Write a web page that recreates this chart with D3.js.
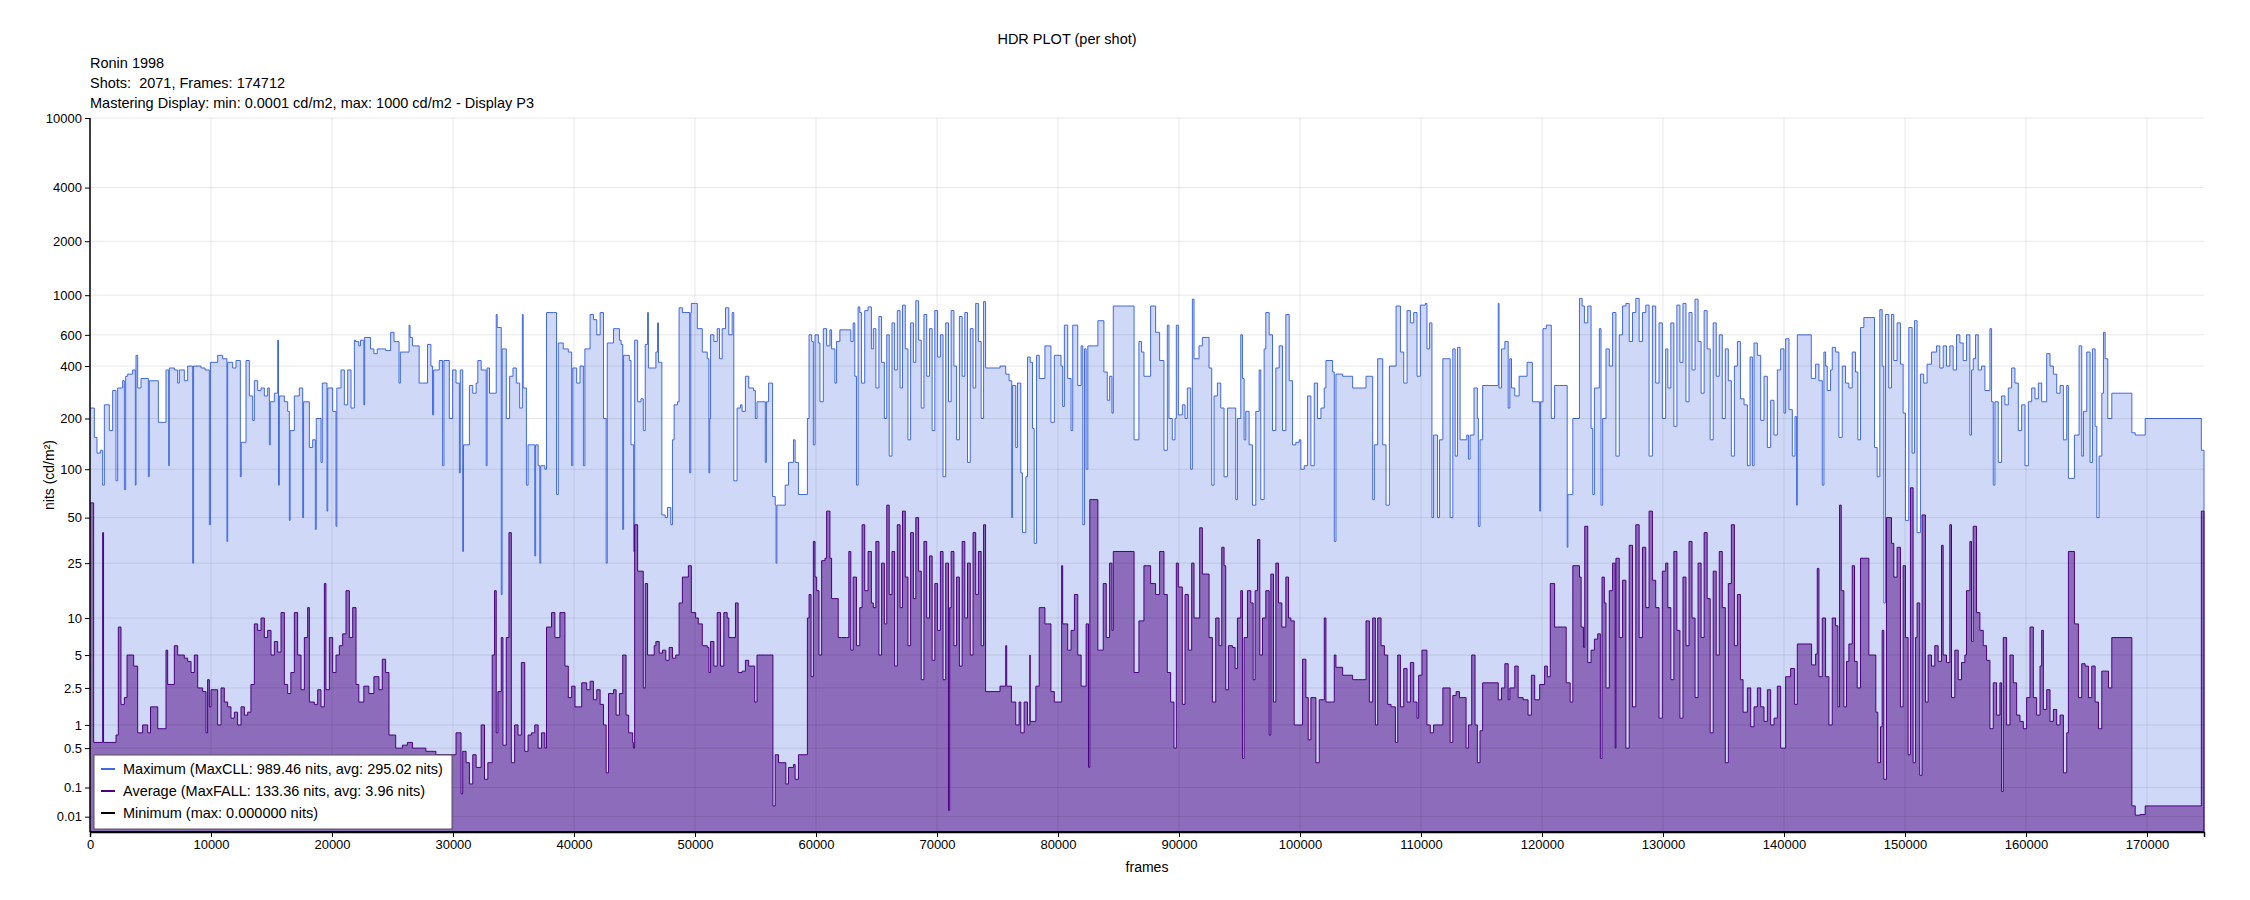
<!DOCTYPE html>
<html><head><meta charset="utf-8">
<script src="https://cdn.jsdelivr.net/npm/d3@7"></script>
<style>
body{margin:0;background:#fff;}
svg text{font-family:Arial,"Liberation Sans",Helvetica,sans-serif;fill:#000;white-space:pre;}
</style>
</head><body>
<svg id="chart" width="2250" height="900"></svg>
<script>
// ---------- texts ----------
const chartTitle = "HDR PLOT (per shot)";
const headerLines = ["Ronin 1998", "Shots:  2071, Frames: 174712", "Mastering Display: min: 0.0001 cd/m2, max: 1000 cd/m2 - Display P3"];
const yAxisTitle = "nits (cd/m²)";
const xAxisTitle = "frames";
const legendLabels = ["Maximum (MaxCLL: 989.46 nits, avg: 295.02 nits)", "Average (MaxFALL: 133.36 nits, avg: 3.96 nits)", "Minimum (max: 0.000000 nits)"];

// ---------- ticks ----------
const yTickValues = [0.01, 0.1, 0.5, 1, 2.5, 5, 10, 25, 50, 100, 200, 400, 600, 1000, 2000, 4000, 10000];
const yTickLabels = ["0.01", "0.1", "0.5", "1", "2.5", "5", "10", "25", "50", "100", "200", "400", "600", "1000", "2000", "4000", "10000"];
const xTickValues = [0, 10000, 20000, 30000, 40000, 50000, 60000, 70000, 80000, 90000, 100000, 110000, 120000, 130000, 140000, 150000, 160000, 170000];
const totalFrames = 174712;

// ---------- data: [shot start frame, nits] ----------
const maxSeries = [
[0,230],[358,155],[578,125],[854,130],[1047,80],[1185,240],[1598,170],[1873,290],[2150,85],[2287,300],[2424,300],[2700,330],[2838,75],[2950,350],[3113,360],[3526,380],[3747,80],[3802,460],[3940,300],[4215,340],[4628,340],[4821,90],[4900,330],[5648,190],[6281,380],[6502,105],[6557,390],[6970,380],[7246,320],[7383,380],[7797,330],[8072,400],[8485,25],[8560,400],[9174,390],[9505,380],[9863,45],[9950,420],[10552,460],[10965,440],[11316,35],[11378,420],[11791,390],[12067,430],[12425,90],[12500,145],[12893,430],[13169,270],[13444,195],[13582,330],[13858,290],[14133,300],[14409,270],[14684,300],[14822,140],[14900,250],[15235,280],[15511,560],[15580,80],[15648,270],[16062,250],[16337,220],[16475,48],[16540,170],[16888,270],[17301,300],[17577,50],[17650,250],[18128,135],[18403,150],[18624,42],[18700,200],[19092,110],[19200,320],[19588,55],[19650,300],[20056,220],[20332,44],[20400,300],[20745,380],[21021,240],[21296,380],[21572,230],[21847,560],
[21939,550],[22216,520],[22355,560],[22632,240],[22700,580],[23186,500],[23463,470],[23740,500],[24155,500],[24432,490],[24848,620],[25125,550],[25540,320],[25650,480],[26371,680],[26450,580],[26648,520],[27202,320],[27479,320],[27895,530],[28172,400],[28310,210],[28400,380],[28864,430],[29141,105],[29250,430],[29695,200],[29972,380],[30249,320],[30526,95],[30600,380],[30803,30],[30870,140],[31357,310],[31634,280],[31911,320],[32050,430],[32327,380],[32742,105],[32820,390],[33019,280],[33573,780],[33650,660],[33989,15],[34060,500],[34127,500],[34404,200],[34681,350],[34958,390],[35235,320],[35512,230],[35734,780],[35800,300],[36066,80],[36205,140],[36482,140],[36759,28],[36830,140],[37036,105],[37174,25],[37250,105],[37590,100],[37728,800],[38282,800],[38559,70],[38700,540],[39113,500],[39529,480],[39806,105],[39900,390],[40221,320],[40498,400],[40775,105],[40900,500],[41329,780],[41606,730],[41883,600],[42160,800],[42437,200],[42659,25],[42750,540],[43268,650],
[43479,650],[43753,560],[43890,530],[44027,42],[44100,460],[44575,430],[44712,140],[44931,30],[45013,560],[45260,250],[45534,260],[45726,170],[45890,530],[46082,800],[46150,390],[46630,390],[46767,480],[46904,700],[46980,420],[47260,52],[47534,50],[47726,58],[48000,45],[48137,150],[48274,240],[48548,250],[48685,850],[48959,800],[49562,95],[49650,800],[49699,900],[50055,900],[50192,650],[50603,480],[51014,440],[51151,95],[51220,200],[51288,600],[51562,550],[51836,650],[52028,440],[52247,650],[52521,850],[52795,600],[53069,800],[53206,85],[53480,230],[53754,240],[53891,220],[54165,350],[54439,300],[54850,290],[54987,200],[55124,250],[55809,110],[55900,250],[56083,320],[56412,68],[56631,60],[56700,25],[56768,60],[57453,80],[57727,110],[58138,150],[58275,110],[58549,70],[59289,200],[59426,600],[59645,550],[59782,140],[59919,600],[60193,540],[60330,250],[60604,650],[60878,520],[61152,640],[61289,500],[61563,320],[61700,550],[61974,640],[62878,550],[63070,700],[63207,350],[63344,80],[63481,860],[63618,800],[63755,320],[64029,820],[64303,860],[64577,500],
[64737,650],[64950,300],[65200,760],[65420,420],[65650,200],[65850,600],[66050,120],[66280,700],[66500,380],[66720,820],[66950,300],[67150,880],[67380,500],[67600,150],[67820,700],[68050,420],[68250,930],[68480,560],[68700,230],[68920,780],[69150,350],[69380,650],[69600,170],[69820,820],[70050,450],[70280,600],[70500,90],[70720,700],[70950,250],[71170,820],[71400,400],[71620,150],[71850,760],[72080,350],[72300,800],[72520,110],[72750,650],[72980,300],[73200,900],[73420,550],[73650,200],[73850,920],
[74017,390],[75208,400],[75679,360],[75956,330],[76177,50],[76233,310],[76510,135],[76648,320],[76925,95],[77064,40],[77341,90],[77479,450],[77701,420],[77895,175],[78033,34],[78227,460],[78449,340],[78920,520],[79418,190],[79695,460],[80249,400],[80387,235],[80526,680],[80803,340],[81080,170],[81219,680],[81634,310],[81911,520],[82050,45],[82188,500],[82327,100],[82465,520],[83297,720],[83795,370],[84072,255],[84266,350],[84460,215],[84570,870],[86288,150],
[86688,550],[86909,480],[87102,350],[87654,870],[88068,620],[88399,430],[88758,130],[89034,680],[89172,200],[89448,150],[89669,200],[89779,680],[89945,210],[90276,240],[90497,200],[90690,300],[90966,100],[91104,950],[91242,440],[91656,520],[91932,580],[92484,390],[92705,80],[92898,270],[93174,320],[93450,230],[93726,90],[94002,230],[94416,230],[94692,65],[94830,200],[95106,600],[95244,340],[95382,150],[95520,220],[95796,140],[96072,60],[96348,220],[96624,380],[96762,65],[97038,500],[97176,800],[97452,600],[97728,170],[98004,390],[98280,520],[98556,170],[98832,780],[99108,330],[99384,140],[99660,145],[99936,150],[100074,100],[100350,105],[100626,270],[100902,105],[101178,320],[101454,200],[101730,230],[102006,300],[102144,430],[102696,370],[102834,35],[102972,360],[103524,350],[104352,300],[105456,350],[105732,350],[106008,65],[106146,140],[106422,440],[106836,140],[107112,60],[107388,400],[107940,870],
[108301,480],[108575,320],[108849,820],[109123,700],[109397,800],[109671,350],[109945,880],[110356,900],[110493,500],[110712,700],[110904,50],[111041,160],[111370,50],[111534,150],[111808,440],[112411,50],[112630,500],[112822,120],[113014,510],[113233,150],[113781,160],[113918,115],[114055,160],[114384,300],[114658,200],[114740,44],[114877,150],[115096,310],[116384,900],[116450,300],[116658,500],[116932,550],[117206,230],[117343,440],[117480,300],[117754,270],[118110,350],[118768,420],[119206,250],[119809,55],[119880,250],[120083,650],[120357,680],[120768,200],[121042,310],[122001,310],[122083,32],[122138,70],[122275,70],[122549,200],[123097,960],[123316,870],[123508,700],[123782,870],[124056,175],[124193,70],[124330,300],[124741,650],[124878,60],[125015,200],[125289,500],[125563,400],[125837,800],[126111,120],[126385,600],[126659,870],[126933,900],[127207,550],[127481,800],[127755,960],[128029,550],[128303,800],[128577,880],[128851,120],[129125,870],[129399,320],[129673,700],[129947,200],[130221,500],
[130400,300],[130650,700],[130900,180],[131150,880],[131400,420],[131650,900],[131900,250],[132150,800],[132400,380],[132650,950],[132900,550],[133150,280],[133400,820],[133650,500],[133900,150],[134150,700],[134400,350],[134650,600],[134900,200],[135150,500],[135400,330],[135650,120],[135900,400],[136150,550],[136400,260],
[136700,240],[136975,105],[137195,450],[137388,105],[137525,540],[137800,460],[138075,195],[138350,350],[138625,135],[138900,255],[139175,160],[139450,380],[139725,500],[140000,215],[140138,570],[140413,225],[140688,120],[140908,205],[141045,60],[141100,600],[142255,340],[142613,410],[142888,330],[143163,80],[143300,480],[143438,400],[143575,290],[143850,380],[143988,510],[144263,480],[144538,155],[144813,400],[145088,320],[145363,300],[145638,480],[145913,370],[146105,150],[146325,660],[146600,750],[147480,135],[147700,90],[147920,830],[148113,400],[148250,13],[148388,780],[148663,300],[148883,780],[149075,430],[149350,700],[149625,410],[149845,215],[150038,48],[150313,660],[150588,125],[150780,720],[151000,40],[151275,360],[151550,320],[151825,410],
[152189,480],[152603,520],[152879,390],[153155,520],[153431,400],[153707,520],[153983,380],[154259,600],[154535,540],[154811,430],[155087,600],[155363,160],[155501,380],[155639,440],[155832,600],[156053,380],[156329,400],[156605,290],[157019,650],[157157,250],[157295,80],[157433,250],[157709,110],[157985,270],[158261,240],[158537,300],[158813,390],[159089,320],[159365,170],[159641,240],[159917,105],[160193,250],[160469,300],[160745,260],[161021,320],[161297,250],[161711,470],[161987,400],[162263,360],[162539,280],[162815,310],[163091,150],[163367,310],[163505,88],[164002,160],[164389,520],[164609,120],[164747,220],[165023,480],[165299,110],[165492,500],[165713,180],[165851,50],[166044,120],[166265,280],[166403,620],[166541,440],[166762,200],[167093,280],[168749,165],[169025,160],[169853,200],[174490,130]
];

const avgSeries = [
[0,62],[300,0.6],[1047,40],[1120,0.6],[2150,0.75],[2340,8.5],[2560,1.7],[2838,2],[3060,5],[3610,4],[3940,0.8],[4350,1],[4770,0.8],[5000,1.6],[5600,0.9],[6281,5.5],[6420,2.7],[6970,6],[7246,5],[7797,4.7],[8072,4.4],[8350,3.5],[8623,5],[8900,2.5],[9312,2.3],[9590,0.8],[9720,3],[9863,1.6],[10000,2.4],[10552,1],[10830,2.5],[11100,1.8],[11380,1.6],[11650,1.2],[11930,1.4],[12200,1],[12480,1.6],[12756,1.3],[13030,1.4],[13300,2.7],[13582,9],[13858,8],[14133,10],[14409,7],[14684,8],[14960,5],[15235,6.5],[15511,5.3],[15786,11],[16062,2.7],[16337,2.2],[16600,3.5],[16888,11],[17160,5],[17440,2.4],[17715,7],[17990,12],[18128,1.8],[18540,1.7],[18817,2.4],[19092,1.6],[19368,18],[19500,2.4],[19781,7],[20056,3.5],[20332,5],[20607,6],[20883,7.5],[21158,16],[21434,7],[21710,12],[21985,2.7],
[22216,1.8],[22632,2.6],[23047,2.2],[23463,3.2],[23878,2.4],[24155,4.6],[24432,3.5],[24709,0.75],[25263,0.5],[25817,0.55],[26233,0.6],[26648,0.5],[27202,0.5],[27756,0.45],[28587,0.4],[29695,0.4],[30249,0.8],[30665,0.07],[30803,0.45],[31080,0.3],[31357,0.12],[31634,0.4],[31911,0.25],[32327,1],[32604,0.15],[32881,0.3],[33241,5],[33435,16],[33573,0.8],[33712,2.3],[33989,7],[34127,0.55],[34404,7],[34626,40],[34820,0.3],[35097,1],[35374,0.75],[35651,4.3],[35928,0.45],[36205,0.75],[36482,0.8],[36759,1],[37036,0.5],[37313,0.8],[37590,0.5],[37728,8.5],[38144,11],[38421,7],[38836,11],[39252,4],[39529,2],[39806,2.6],[40083,1.6],[40360,1.6],[40637,2.8],[41052,2.4],[41329,2.9],[41606,1.9],[41883,2.4],[42160,1.7],[42437,1],[42659,0.2],[42853,2.2],[43268,2.4],
[43479,1.3],[43753,2.2],[44027,5],[44301,1.3],[44520,0.8],[44849,0.6],[44904,0.5],[45013,45],[45260,22],[45726,2.5],[45890,18],[46082,5],[46356,5],[46630,6],[46767,6.5],[47041,5.2],[47315,5.5],[47589,4.5],[47863,5.8],[48137,4.7],[48411,5],[48685,13],[48959,20],[49452,24],[49699,11],[50055,10],[50274,9],[50603,6],[51014,5.8],[51151,3.5],[51288,6.5],[51562,4],[51836,11],[52110,4],[52384,11],[52658,10],[52795,7],[53069,7],[53343,13],[53562,3.5],[53891,3.6],[54165,4.5],[54439,4],[54932,1.8],[55124,5],[55809,5],[56083,5],[56439,0.03],[56631,0.4],[56905,0.3],[57508,0.12],[57727,0.25],[58138,0.28],[58275,0.15],[58549,0.4],[59289,10],[59426,15],[59590,3.2],[59782,35],[59919,20],[60056,16],[60248,5],[60467,26],[60741,27],[60878,55],[61152,27],[61289,14],[61563,14],[61837,7],[62111,7],[62522,7],[62714,30],[62878,5.5],[63070,20],[63344,6],[63618,12],[63810,45],[64029,16],[64303,30],[64577,13],
[64737,12],[64950,35],[65200,5],[65420,25],[65650,9],[65850,60],[66050,15],[66280,30],[66500,4],[66720,45],[66950,12],[67150,55],[67380,20],[67600,6],[67820,40],[68050,14],[68250,50],[68480,22],[68700,3],[68920,35],[69150,10],[69380,28],[69600,4.5],[69820,18],[70050,8],[70280,30],[70500,3],[70720,25],[70950,0.02],[71050,12],[71170,30],[71400,6],[71620,20],[71850,4],[72080,35],[72300,10],[72520,25],[72750,5],[72980,40],[73200,15],[73420,30],[73650,6],[73850,45],
[74017,2.3],[75208,2.6],[75679,6],[75762,2.6],[76149,1.8],[76510,1],[76787,1.8],[76925,0.8],[77202,1.8],[77479,1],[77673,5],[77701,1.1],[78172,2.6],[78449,12],[78920,9],[79418,2.3],[79695,1.8],[80249,1.8],[80304,24],[80387,9],[80803,5.5],[81080,8],[81357,15],[81634,5],[81911,2.6],[82327,9],[82521,0.25],[82631,65],[83241,65],[83297,5.5],[83740,18],[83989,7],[84266,25],[84460,8],[84570,30],[86205,30],[86288,3.5],
[86688,9.5],[87102,24],[87654,18],[88068,15],[88399,30],[88758,15],[89034,3.5],[89310,1.8],[89586,0.5],[89779,25],[89945,17],[90276,1.7],[90497,15],[90773,5.5],[91049,25],[91242,10],[91711,43],[91932,21],[92484,7],[92760,1.8],[93036,10],[93312,6],[93533,32],[93726,24],[93864,2.4],[94085,6],[94416,5.8],[94637,3.8],[94830,10],[95106,16],[95244,0.35],[95382,7],[95658,16],[95934,13],[96127,3],[96293,16],[96486,36],[96679,5],[96900,10],[97176,16],[97452,0.75],[97590,21],[97811,1.8],[98004,25],[98225,13],[98501,8.5],[98832,20],[99053,10],[99246,9.5],[99522,1],[99936,1],[100212,4.6],[100488,2],[100681,0.65],[100902,2],[101316,0.3],[101592,1.9],[102006,10],[102144,1.8],[102696,1.8],[102834,5],[102972,3.9],[103524,3.3],[104352,3],[105456,9.5],[105732,1.8],[106008,10],[106229,1],[106422,10],[106698,6],[106974,5],[107250,1.7],[107526,1.6],[107885,0.6],[108078,5],
[108301,1.6],[108575,3.8],[108849,1.8],[109123,4.3],[109397,1.8],[109671,1.2],[109808,3.3],[110082,5.5],[110493,1],[110767,0.8],[111041,1],[111315,1],[111808,2.5],[112411,0.6],[112630,2.1],[112904,2.3],[113178,2],[113726,0.5],[113918,1],[114192,5],[114466,1],[114658,0.3],[114877,0.85],[115096,2.8],[116384,1.9],[116658,2.5],[116932,4.2],[117206,1.9],[117343,2.5],[117754,4],[118028,2],[118439,1.9],[118850,1.3],[119124,3.3],[119398,1.9],[119809,2.7],[120220,4],[120439,3.2],[120686,18],[121042,8.5],[122001,2.8],[122330,1.8],[122549,24],[123097,20],[123234,8.5],[123426,5.8],[123535,44],[123782,4.3],[124056,5.5],[124330,6.8],[124604,7.5],[124823,0.35],[124960,20],[125152,13],[125289,2.5],[125563,16],[125837,25],[126050,0.5],[126111,27],[126385,7],[126659,19],[126933,0.5],[127207,33],[127481,1.6],[127755,45],[128029,7],[128303,32],[128577,12],[128851,55],[129125,19],[129399,12],[129673,1.2],[129947,22],[130221,25],
[130400,12],[130650,3],[130900,30],[131150,8],[131400,1.2],[131650,20],[131900,6],[132150,35],[132400,10],[132650,2],[132900,25],[133150,7],[133400,40],[133650,14],[133900,0.8],[134150,22],[134400,5],[134650,30],[134900,12],[135150,0.3],[135400,18],[135650,45],[135900,6],[136150,15],[136400,3],
[136618,1.4],[136975,2.5],[137250,0.95],[137525,1.6],[137800,2.5],[138075,1.6],[138350,1.1],[138625,2.4],[138900,1],[139175,1.2],[139450,2.6],[139725,0.5],[140138,3.2],[140550,3.8],[140880,1.7],[141100,6.2],[142283,4.1],[142613,5.1],[142750,23],[142888,3.2],[143163,10],[143438,3.2],[143713,1],[143988,10],[144263,8.7],[144455,1.6],[144593,60],[144730,16],[144950,1.6],[145170,4.4],[145363,6.2],[145638,24],[145830,4.4],[146050,2.5],[146325,27],[147013,5],[147590,1.4],[147755,0.3],[147975,0.95],[148113,8],[148250,0.15],[148470,50],[148883,34],[149075,20],[149350,32],[149625,1.6],[149845,24],[150038,7],[150258,0.4],[150450,77],[150670,0.3],[150863,7],[151000,13],[151220,0.18],[151413,52],[151688,1.8],
[151913,5],[152189,4],[152465,6],[152741,4.4],[153017,33],[153155,5],[153431,4.3],[153707,45],[153845,2],[154121,5.5],[154397,3],[154673,4.3],[154949,5],[155087,16],[155363,35],[155501,6.5],[155639,44],[155915,11],[156191,8],[156467,6],[156743,4.5],[157019,0.9],[157295,2.8],[157571,1.3],[157847,2.8],[157985,0.08],[158123,7],[158399,1],[158675,5],[158951,2.8],[159227,1.3],[159503,1.1],[159779,0.9],[160055,2],[160331,8.5],[160607,2],[160883,1.3],[161159,4],[161297,8],[161435,1.5],[161711,2.4],[161987,1.1],[162263,1.5],[162539,1],[162815,1.3],[163091,0.2],[163367,0.8],[163505,30],[164002,9],[164333,2],[164609,4.2],[164885,4],[165161,2],[165437,4],[165713,1.8],[165989,0.9],[166265,3.6],[166541,3.6],[166817,2.5],[167093,7],[168749,0.03],[169025,0.012],[169439,0.013],[169853,0.03],[174490,55]
];

const minSeries = [[0,0],[174712,0]];

// ---------- colors ----------
const maxColor = "#4169e1";
const avgColor = "#4b0082";
const minColor = "#000000";

// ---------- PQ (SMPTE ST 2084) ----------
function pq(nits) {
  const m1 = 0.1593017578125, m2 = 78.84375, c1 = 0.8359375, c2 = 18.8515625, c3 = 18.6875;
  const y = Math.pow(Math.max(nits, 0) / 10000, m1);
  return Math.pow((c1 + c2 * y) / (1 + c3 * y), m2);
}

const svg = d3.select("#chart");
const L = 90, R = 2204, T = 118, B = 832;

const x = d3.scaleLinear().domain([0, totalFrames]).range([L, R]);
const y = d3.scaleLinear().domain([0, 1]).range([B, T]);
const yv = v => y(pq(v));

svg.append("rect").attr("x", 0).attr("y", 0).attr("width", 2250).attr("height", 900).attr("fill", "#fff");

// title + header
svg.append("text").attr("x", 1067).attr("y", 44).attr("text-anchor", "middle").attr("font-size", 14.5).text(chartTitle);
headerLines.forEach((t, i) => {
  svg.append("text").attr("x", L).attr("y", 68 + i * 20).attr("font-size", 14.5)
    .attr("xml:space", "preserve").text(t);
});

function stepData(series) {
  const d = series.map(([f, v]) => ({ f, v }));
  d.push({ f: totalFrames, v: series[series.length - 1][1] });
  return d;
}

svg.append("clipPath").attr("id", "plotclip").append("rect")
  .attr("x", L).attr("y", T).attr("width", R - L + 1).attr("height", B - T);
const plot = svg.append("g").attr("clip-path", "url(#plotclip)");

const area = d3.area().curve(d3.curveStepAfter)
  .x(d => x(d.f)).y0(y(0)).y1(d => yv(d.v));
const line = d3.line().curve(d3.curveStepAfter)
  .x(d => x(d.f)).y(d => yv(d.v));

const maxD = stepData(maxSeries);
const avgD = stepData(avgSeries);

plot.append("path").datum(maxD).attr("d", area).attr("fill", maxColor).attr("fill-opacity", 0.25);
plot.append("path").datum(maxD.concat([{ f: totalFrames, v: 0 }])).attr("d", line)
  .attr("fill", "none").attr("stroke", maxColor).attr("stroke-width", 1);

plot.append("path").datum(avgD).attr("d", area).attr("fill", avgColor).attr("fill-opacity", 0.5);
plot.append("path").datum(avgD.concat([{ f: totalFrames, v: 0 }])).attr("d", line)
  .attr("fill", "none").attr("stroke", avgColor).attr("stroke-width", 1);

// grid
const grid = svg.append("g");
yTickValues.forEach(v => {
  grid.append("line").attr("x1", L).attr("x2", R).attr("y1", yv(v)).attr("y2", yv(v))
    .attr("stroke", "#000").attr("stroke-opacity", 0.09).attr("stroke-width", 1);
});
xTickValues.forEach(v => {
  grid.append("line").attr("x1", x(v)).attr("x2", x(v)).attr("y1", T).attr("y2", B)
    .attr("stroke", "#000").attr("stroke-opacity", 0.09).attr("stroke-width", 1);
});

// minimum line
svg.append("path").datum(minSeries.map(([f, v]) => ({ f, v })))
  .attr("d", d3.line().x(d => x(d.f)).y(d => yv(d.v)))
  .attr("stroke", minColor).attr("stroke-width", 2).attr("fill", "none");

// axes
const yAxis = d3.axisLeft(y).tickValues(yTickValues.map(pq))
  .tickFormat((d, i) => yTickLabels[i]).tickSizeOuter(0).tickSize(5).tickPadding(3);
const gy = svg.append("g").attr("transform", `translate(${L},0)`).call(yAxis);
gy.select(".domain").attr("d", `M0,${T}V${B}`).attr("stroke", "#000").attr("stroke-width", 1.5);
gy.selectAll("text").attr("font-size", 13).attr("font-family", "Arial, 'Liberation Sans', sans-serif").attr("fill", "#000");

const xAxis = d3.axisBottom(x).tickValues(xTickValues).tickFormat(d => String(d))
  .tickSizeOuter(0).tickSize(5).tickPadding(3);
const gx = svg.append("g").attr("transform", `translate(0,${B})`).call(xAxis);
gx.select(".domain").attr("stroke", "#000").attr("stroke-width", 1.5);
gx.selectAll("text").attr("font-size", 13).attr("font-family", "Arial, 'Liberation Sans', sans-serif").attr("fill", "#000");

// axis titles
svg.append("text").attr("transform", `translate(50,${(T + B) / 2}) rotate(-90)`)
  .attr("text-anchor", "middle").attr("dominant-baseline", "middle").attr("font-size", 14).text(yAxisTitle);
svg.append("text").attr("x", (L + R) / 2).attr("y", 872).attr("text-anchor", "middle")
  .attr("font-size", 14).text(xAxisTitle);

// legend
const lg = svg.append("g");
lg.append("rect").attr("x", 94).attr("y", 755).attr("width", 358).attr("height", 74)
  .attr("fill", "#fff").attr("stroke", "#555").attr("stroke-width", 1);
const legendColors = [maxColor, avgColor, minColor];
legendLabels.forEach((t, i) => {
  const cy = 769 + i * 22;
  lg.append("line").attr("x1", 101).attr("x2", 115).attr("y1", cy).attr("y2", cy)
    .attr("stroke", legendColors[i]).attr("stroke-width", 2);
  lg.append("text").attr("x", 123).attr("y", cy + 5).attr("font-size", 14.5).text(t);
});
</script>
</body></html>
